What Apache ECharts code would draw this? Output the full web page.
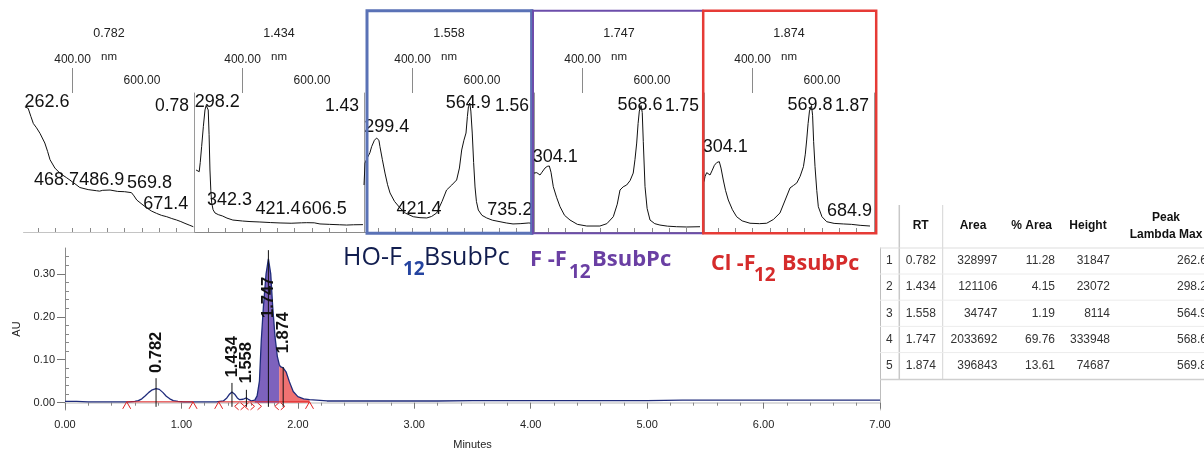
<!DOCTYPE html>
<html>
<head>
<meta charset="utf-8">
<script src="https://cdn.jsdelivr.net/npm/echarts@6/dist/echarts.min.js"></script>
<style>
  html, body { margin: 0; padding: 0; background: #fff; }
  #c { width: 1204px; height: 451px; }
</style>
</head>
<body>
<div id="c"></div>
<script>
// ---- Chromatogram trace (minutes, AU) ----
const traceTime = [0.00, 0.10, 0.20, 0.30, 0.40, 0.50, 0.55, 0.60, 0.63, 0.66, 0.69, 0.72, 0.75, 0.782, 0.81, 0.84, 0.87, 0.90, 0.93, 0.97,
  1.02, 1.10, 1.20, 1.30, 1.36, 1.39, 1.41, 1.434, 1.46, 1.48, 1.50, 1.53, 1.558, 1.58, 1.60, 1.63, 1.65, 1.67, 1.686, 1.704,
  1.727, 1.747, 1.767, 1.784, 1.804, 1.824, 1.84, 1.85, 1.874, 1.90, 1.927, 1.96, 2.00, 2.05, 2.10, 2.16, 2.25, 2.40, 2.60, 2.80,
  3.00, 3.20, 3.50, 3.80, 4.00, 4.30, 4.60, 5.00, 5.30, 5.60, 6.00, 6.30, 6.60, 7.00];
const traceAU = [0.003, 0.003, 0.002, 0.002, 0.002, 0.002, 0.002, 0.003, 0.005, 0.009, 0.016, 0.024, 0.030, 0.033, 0.031, 0.024, 0.015, 0.009, 0.005, 0.003,
  0.002, 0.002, 0.002, 0.002, 0.004, 0.011, 0.019, 0.025, 0.019, 0.011, 0.007, 0.008, 0.011, 0.007, 0.004, 0.006, 0.016, 0.050, 0.146, 0.223,
  0.300, 0.335, 0.300, 0.223, 0.153, 0.107, 0.089, 0.084, 0.081, 0.071, 0.049, 0.026, 0.014, 0.009, 0.007, 0.006, 0.004, 0.004, 0.004, 0.004,
  0.004, 0.004, 0.005, 0.005, 0.005, 0.005, 0.005, 0.005, 0.006, 0.006, 0.006, 0.006, 0.006, 0.006];

// ---- Integration results ----
const peakRT = [0.782, 1.434, 1.558, 1.747, 1.874];
const peakArea = [328997, 121106, 34747, 2033692, 396843];
const peakPctArea = [11.28, 4.15, 1.19, 69.76, 13.61];
const peakHeight = [31847, 23072, 8114, 333948, 74687];
const peakLambdaMax = [262.6, 298.2, 564.9, 568.6, 569.8];
const baselineAU = 0.002;
const integWindows = [[0.53, 1.10], [1.32, 2.10]];
const markerTime = [0.53, 1.10, 1.32, 1.50, 1.585, 1.645, 1.845, 2.10];
const markerKind = ['^', '^', '^', '<>', '<>', '>', '<>', '^'];
const fillMain = [1.63, 1.84];   // F-F12BsubPc
const fillShoulder = [1.84, 2.10]; // Cl-F12BsubPc

// ---- Compound names ----
const compoundNames = [['HO-F', '12', 'BsubPc'], ['F -F', '12', 'BsubPc'], ['Cl -F', '12', 'BsubPc']];

// ---- UV-Vis spectra at each peak (nm, relative absorbance) ----
const spec0782 = [[262.6,0.90],[272,0.89],[280,0.83],[287,0.78],[296,0.75],[306,0.71],[320,0.64],[328,0.58],[335,0.52],[349,0.46],[365,0.42],[383,0.39],[400,0.36],[421,0.32],[445,0.305],[468.7,0.297],[478,0.294],[486.9,0.300],[508,0.302],[530,0.292],[550,0.290],[569.8,0.283],[577,0.26],[585,0.23],[600,0.20],[614,0.173],[628,0.15],[642,0.134],[656,0.12],[671.4,0.11],[686,0.097],[700,0.086],[712,0.075],[724,0.062],[736,0.05],[748,0.038]];
const spec1434 = [[266,0.446],[271,0.44],[275,0.434],[278,0.50],[282,0.614],[287,0.76],[291.7,0.878],[295,0.91],[298.2,0.921],[301,0.878],[303.5,0.70],[306,0.446],[308.5,0.30],[311,0.209],[315,0.16],[320.5,0.137],[330,0.125],[342.3,0.115],[355,0.10],[372,0.086],[400,0.079],[421.4,0.075],[450,0.072],[480,0.068],[508,0.065],[540,0.063],[570,0.066],[585,0.067],[606.5,0.066],[623,0.058],[650,0.055],[680,0.052],[700,0.050],[720,0.052],[747,0.053]];
const spec1558 = [[260,0.338],[263,0.496],[267,0.52],[272.4,0.532],[277,0.57],[282,0.614],[290,0.66],[296.4,0.676],[299.4,0.683],[303,0.66],[306,0.614],[313,0.52],[320.5,0.424],[328,0.34],[335,0.281],[348,0.22],[363.8,0.173],[380,0.135],[402,0.110],[421.4,0.103],[441,0.101],[455,0.112],[469.5,0.137],[485,0.22],[498,0.302],[513,0.338],[527,0.374],[535,0.46],[541.6,0.590],[548,0.66],[554,0.712],[558,0.83],[561,0.901],[564.9,0.928],[568,0.87],[572,0.712],[576,0.5],[580,0.324],[584,0.22],[589.5,0.158],[600,0.12],[613.7,0.101],[630,0.085],[652,0.074],[670,0.065],[689.5,0.058],[710,0.06],[735.2,0.065],[745,0.062]];
const spec1747 = [[260,0.424],[264,0.43],[268,0.427],[273,0.415],[277.3,0.410],[283,0.43],[291.7,0.460],[298,0.472],[304.1,0.475],[309,0.43],[315.6,0.326],[325,0.25],[335,0.182],[348,0.12],[363.8,0.086],[385,0.055],[412,0.043],[450,0.043],[470,0.06],[488.6,0.110],[500,0.20],[507.9,0.302],[517,0.325],[527,0.338],[537,0.37],[546,0.424],[551,0.52],[556,0.640],[560,0.78],[563.6,0.87],[568.6,0.91],[572,0.86],[575,0.65],[580,0.326],[586,0.17],[594.4,0.086],[608,0.06],[623,0.050],[645,0.042],[671,0.038],[700,0.036],[738.5,0.038]];
const spec1874 = [[260,0.362],[263,0.40],[267.8,0.427],[272,0.42],[277.3,0.410],[283,0.44],[290,0.48],[297,0.50],[304.1,0.506],[309,0.46],[315.6,0.374],[322,0.3],[330,0.230],[342,0.16],[354,0.110],[370,0.08],[392.6,0.063],[420,0.060],[440.7,0.063],[460,0.09],[479,0.137],[494,0.23],[508,0.317],[518,0.335],[527.5,0.353],[537,0.40],[546.6,0.470],[552,0.56],[556,0.662],[560,0.78],[564,0.87],[569.8,0.91],[573,0.84],[576,0.65],[580,0.470],[585,0.3],[589.5,0.182],[600,0.11],[613.7,0.074],[635,0.062],[661.5,0.058],[684.9,0.055],[710,0.048],[738.5,0.043]];
const spectra = [spec0782, spec1434, spec1558, spec1747, spec1874];
// wavelengths annotated on each spectrum
const specMarks = [[262.6, 468.7, 486.9, 569.8, 671.4], [298.2, 342.3, 421.4, 606.5], [299.4, 564.9, 421.4, 735.2], [304.1, 568.6], [304.1, 569.8, 684.9]];
const nmTicks = [300, 350, 400, 450, 500, 550, 600, 650, 700];

// ---- layout ----
const FONT = '"Liberation Sans", Arial, Helvetica, sans-serif';
const MAIN = { left: 65, top: 248, width: 815, height: 162 };
const SPEC = { left: 24, top: 93, width: 170, height: 139 };
const NM_MIN = 260, NM_MAX = 750;
// label offsets (px) from the annotated spectrum point
const specMarkOffset = [
  [[22, -5], [-40, -11], [-1, -10], [18, -10], [-1, -13]],
  [[10, -2], [7, -16], [28, -13], [10, -14]],
  [[9, -10], [-1.5, 0], [-1, -9], [-19, -13]],
  [[6, -9], [-1, 0]],
  [[6, -15], [-1.5, 0], [-2, -13]]
];
// where each rotated retention-time label starts, and where its drop line ends (AU)
const peakLineTop = [0.057, 0.046, 0.030, 0.355, 0.083];
const peakLabelStart = [0.069, 0.059, 0.045, 0.197, 0.115];

const NAVY = '#1f2b7b';
const RED = '#e02424';

const chart = echarts.init(document.getElementById('c'));

const pairs = traceTime.map((t, i) => [t, traceAU[i]]);
const inRange = (r) => pairs.filter(p => p[0] >= r[0] - 1e-9 && p[0] <= r[1] + 1e-9);

const grids = [{ left: MAIN.left, top: MAIN.top, width: MAIN.width, height: MAIN.height }];
for (let i = 0; i < 5; i++) grids.push({ left: SPEC.left + SPEC.width * i, top: SPEC.top, width: SPEC.width, height: SPEC.height });

const xAxes = [
  {
    type: 'value', gridIndex: 0, min: 0, max: 7, interval: 1,
    axisLine: { show: false },
    axisTick: { show: true, length: 6, lineStyle: { color: '#777' } },
    minorTick: { show: true, splitNumber: 5, length: 3, lineStyle: { color: '#888' } },
    axisLabel: { color: '#222', fontSize: 11, fontFamily: FONT, margin: 9, formatter: v => v.toFixed(2) },
    splitLine: { show: false },
    name: 'Minutes', nameLocation: 'middle', nameGap: 29,
    nameTextStyle: { color: '#222', fontSize: 11, fontFamily: FONT }
  },
  {
    type: 'value', gridIndex: 0, min: 0, max: 7, position: 'top',
    axisLine: { show: true, lineStyle: { color: '#cfcfcf', width: 1.5 } },
    axisTick: { show: false }, axisLabel: { show: false }, splitLine: { show: false }
  }
];
for (let i = 0; i < 5; i++) {
  xAxes.push({
    type: 'value', gridIndex: i + 1, position: 'top', min: NM_MIN, max: NM_MAX,
    axisLine: { show: true, lineStyle: { color: '#8a8a8a', width: 1 } },
    axisTick: { show: true, customValues: nmTicks, length: 4, lineStyle: { color: '#8a8a8a' } },
    axisLabel: { show: true, customValues: [600], margin: 6, color: '#222', fontSize: 12, fontFamily: FONT, formatter: v => v.toFixed(2) },
    splitLine: { show: false },
    name: 'nm', nameLocation: 'middle', nameGap: 30,
    nameTextStyle: { color: '#222', fontSize: 11.5, fontFamily: FONT }
  });
  xAxes.push({
    type: 'value', gridIndex: i + 1, position: 'top', min: NM_MIN, max: NM_MAX,
    axisLine: { show: false },
    axisTick: { show: true, customValues: [400], length: 25, lineStyle: { color: '#8a8a8a' } },
    axisLabel: { show: true, customValues: [400], margin: 27, color: '#222', fontSize: 12, fontFamily: FONT, formatter: v => v.toFixed(2) },
    splitLine: { show: false }
  });
}
// bottom rule under the first spectrum
xAxes.push({
  type: 'value', gridIndex: 1, position: 'bottom', min: NM_MIN, max: NM_MAX,
  axisLine: { show: true, lineStyle: { color: '#c4c4c4', width: 1 } },
  axisTick: { show: false }, axisLabel: { show: false }, splitLine: { show: false }
});

const majorAU = [0, 0.1, 0.2, 0.3];
const minorAU = [0.02, 0.04, 0.06, 0.08, 0.12, 0.14, 0.16, 0.18, 0.22, 0.24, 0.26, 0.28, 0.32, 0.34];
const yAxes = [
  {
    type: 'value', gridIndex: 0, min: -0.017, max: 0.36,
    axisLine: { show: true, lineStyle: { color: '#8a8a8a', width: 1 } },
    axisTick: { show: true, customValues: majorAU, length: 8, lineStyle: { color: '#777' } },
    axisLabel: { customValues: majorAU, color: '#222', fontSize: 11, fontFamily: FONT, margin: 10, formatter: v => v.toFixed(2) },
    splitLine: { show: false },
    name: 'AU', nameLocation: 'middle', nameGap: 43, nameRotate: 90,
    nameTextStyle: { color: '#222', fontSize: 11, fontFamily: FONT }
  },
  {
    type: 'value', gridIndex: 0, min: -0.017, max: 0.36,
    axisLine: { show: false },
    axisTick: { show: true, customValues: minorAU, length: 4, lineStyle: { color: '#888' } },
    axisLabel: { show: false }, splitLine: { show: false }
  },
  {
    type: 'value', gridIndex: 0, min: -0.017, max: 0.36, position: 'right',
    axisLine: { show: true, lineStyle: { color: '#bdbdbd', width: 1 } },
    axisTick: { show: false }, axisLabel: { show: false }, splitLine: { show: false }
  }
];
for (let i = 0; i < 5; i++) {
  yAxes.push({
    type: 'value', gridIndex: i + 1, min: 0, max: 1, position: 'right',
    axisLine: { show: true, lineStyle: { color: '#9a9a9a', width: 1 } },
    axisTick: { show: false }, axisLabel: { show: false }, splitLine: { show: false }
  });
}

const series = [
  {
    type: 'line', xAxisIndex: 0, yAxisIndex: 0, data: inRange(fillMain), symbol: 'none',
    lineStyle: { width: 0 }, areaStyle: { color: '#7d62bd', opacity: 1 }, z: 1, silent: true
  },
  {
    type: 'line', xAxisIndex: 0, yAxisIndex: 0, data: inRange(fillShoulder), symbol: 'none',
    lineStyle: { width: 0 }, areaStyle: { color: '#f07272', opacity: 1 }, z: 1, silent: true
  },
  {
    type: 'line', xAxisIndex: 0, yAxisIndex: 0, data: pairs, symbol: 'none',
    lineStyle: { color: NAVY, width: 1.3 }, z: 3, silent: true
  }
];
integWindows.forEach(w => series.push({
  type: 'line', xAxisIndex: 0, yAxisIndex: 0, data: [[w[0], baselineAU], [w[1], baselineAU]], symbol: 'none',
  lineStyle: { color: RED, width: 1 }, z: 4, silent: true
}));
// integration start / end marks
series.push({
  type: 'custom', coordinateSystem: 'cartesian2d', xAxisIndex: 0, yAxisIndex: 0, z: 5, silent: true,
  data: markerTime.map((t, i) => [t, baselineAU, i]),
  renderItem: (params, api) => {
    const p = api.coord([api.value(0), api.value(1)]);
    const x = p[0], y = p[1];
    const kind = markerKind[api.value(2)];
    const st = { stroke: RED, lineWidth: 1, fill: null };
    const kids = [];
    if (kind === '^') kids.push({ type: 'polyline', shape: { points: [[x - 4, y + 7], [x, y], [x + 4, y + 7]] }, style: st });
    if (kind === '<>' || kind === '<') kids.push({ type: 'polyline', shape: { points: [[x - 1, y + 1], [x - 5, y + 4.5], [x - 1, y + 8]] }, style: st });
    if (kind === '<>' || kind === '>') kids.push({ type: 'polyline', shape: { points: [[x + 1, y + 1], [x + 5, y + 4.5], [x + 1, y + 8]] }, style: st });
    return { type: 'group', children: kids };
  }
});
// peak drop lines with retention-time labels
series.push({
  type: 'custom', coordinateSystem: 'cartesian2d', xAxisIndex: 0, yAxisIndex: 0, z: 6, silent: true,
  data: peakRT.map((rt, i) => [rt, peakLineTop[i], peakLabelStart[i]]),
  renderItem: (params, api) => {
    const rt = api.value(0);
    const b = api.coord([rt, baselineAU]);
    const t = api.coord([rt, api.value(1)]);
    const l = api.coord([rt, api.value(2)]);
    return {
      type: 'group', children: [
        { type: 'line', shape: { x1: b[0], y1: b[1] + 5, x2: t[0], y2: t[1] }, style: { stroke: '#111', lineWidth: 1 } },
        {
          type: 'text', x: l[0], y: l[1], rotation: Math.PI / 2,
          style: { text: rt.toFixed(3), font: 'bold 16.5px ' + FONT, fill: '#111', align: 'left', verticalAlign: 'middle' }
        }
      ]
    };
  }
});
// spectra and their wavelength annotations
spectra.forEach((sp, i) => {
  series.push({
    type: 'line', xAxisIndex: 2 + 2 * i, yAxisIndex: 3 + i, data: sp, symbol: 'none',
    lineStyle: { color: '#111', width: 1 }, z: 3, silent: true
  });
  series.push({
    type: 'custom', coordinateSystem: 'cartesian2d', xAxisIndex: 2 + 2 * i, yAxisIndex: 3 + i, z: 4, silent: true,
    data: specMarks[i].map((nm, j) => {
      const pt = sp.find(p => p[0] === nm);
      return [pt[0], pt[1], j];
    }),
    renderItem: (params, api) => {
      const p = api.coord([api.value(0), api.value(1)]);
      const off = specMarkOffset[i][api.value(2)];
      return {
        type: 'text', x: p[0] + off[0], y: p[1] + off[1],
        style: { text: api.value(0).toFixed(1), font: '18px ' + FONT, fill: '#111', align: 'center', verticalAlign: 'middle' }
      };
    }
  });
});

// ---- text, frames and results table ----
const g = [];
const txt = (x, y, text, style) => g.push({
  type: 'text', x, y, z: 20, silent: true,
  style: Object.assign({ text, fill: '#222', font: '12px ' + FONT, align: 'center', verticalAlign: 'middle' }, style || {})
});
const seg = (x1, y1, x2, y2, stroke, lineWidth) => g.push({ type: 'line', z: 15, silent: true, shape: { x1, y1, x2, y2 }, style: { stroke, lineWidth } });
const box = (x, y, w, h, stroke, lineWidth) => g.push({ type: 'rect', z: 18, silent: true, shape: { x, y, width: w, height: h }, style: { fill: null, stroke, lineWidth } });

peakRT.forEach((rt, i) => {
  const L = SPEC.left + SPEC.width * i;
  txt(L + 85, 34, rt.toFixed(3), { font: '12.5px ' + FONT });
  txt(L + 165, 106.5, rt.toFixed(2), { font: '17.5px ' + FONT, fill: '#111', align: 'right' });
});

box(367, 10.8, 165, 222.5, '#5a72b6', 3);
box(533, 10.8, 170, 222.5, '#6c4dab', 2);
seg(531.6, 9.5, 531.6, 234.5, '#3e40a0', 2.5);
box(703.2, 10.8, 173, 222.5, '#e63b36', 2.5);

// compound names with subscripts
const nameStyles = [
  { x: [343, 403, 424], cy: 257.5, sub: 270, main: '25px "Open Sans"', subF: 'bold 19px "Open Sans"', col: '#111d4f', subCol: '#2544a0' },
  { x: [530, 569, 592], cy: 260, sub: 272.5, main: 'bold 22px "Open Sans"', subF: 'bold 19px "Open Sans"', col: '#6a3fa3', subCol: '#6a3fa3' },
  { x: [711, 754, 782], cy: 263.5, sub: 275.5, main: 'bold 21.5px "Open Sans"', subF: 'bold 19px "Open Sans"', col: '#d52b2b', subCol: '#d52b2b' }
];
compoundNames.forEach((parts, i) => {
  const s = nameStyles[i];
  txt(s.x[0], s.cy, parts[0], { font: s.main, fill: s.col, align: 'left' });
  txt(s.x[1], s.sub, parts[1], { font: s.subF, fill: s.subCol, align: 'left' });
  txt(s.x[2], s.cy, parts[2], { font: s.main, fill: s.col, align: 'left' });
});

// results table
g.push({ type: 'rect', z: 14, silent: true, shape: { x: 881, y: 200, width: 330, height: 179 }, style: { fill: '#fff' } });
seg(899.3, 205, 899.3, 380, '#c8c8c8', 1.5);
seg(942.7, 205, 942.7, 380, '#d4d4d4', 1);
seg(880, 248, 1204, 248, '#dedede', 1.2);
seg(880, 379.5, 1204, 379.5, '#cfcfcf', 1.5);
const rowY = i => 260.8 + 26.2 * i;
for (let i = 0; i < 4; i++) seg(880, rowY(i) + 13.2, 1204, rowY(i) + 13.2, '#ececec', 1);
const HB = 'bold 12px ' + FONT;
txt(920.7, 226, 'RT', { font: HB, fill: '#111' });
txt(973, 226, 'Area', { font: HB, fill: '#111' });
txt(1031.7, 226, '% Area', { font: HB, fill: '#111' });
txt(1088, 226, 'Height', { font: HB, fill: '#111' });
txt(1166, 217.7, 'Peak', { font: HB, fill: '#111' });
txt(1166, 235, 'Lambda Max', { font: HB, fill: '#111' });
const RF = '12px ' + FONT;
peakRT.forEach((rt, i) => {
  const y = rowY(i);
  txt(889.3, y, String(i + 1), { font: RF, fill: '#333' });
  txt(920.8, y, rt.toFixed(3), { font: RF, fill: '#333' });
  txt(997.3, y, String(peakArea[i]), { font: RF, fill: '#333', align: 'right' });
  txt(1055, y, peakPctArea[i].toFixed(2), { font: RF, fill: '#333', align: 'right' });
  txt(1110, y, String(peakHeight[i]), { font: RF, fill: '#333', align: 'right' });
  txt(1207, y, peakLambdaMax[i].toFixed(1), { font: RF, fill: '#333', align: 'right' });
});

chart.setOption({
  animation: false,
  backgroundColor: '#fff',
  textStyle: { fontFamily: FONT },
  grid: grids,
  xAxis: xAxes,
  yAxis: yAxes,
  series: series,
  graphic: g
});
</script>
</body>
</html>
